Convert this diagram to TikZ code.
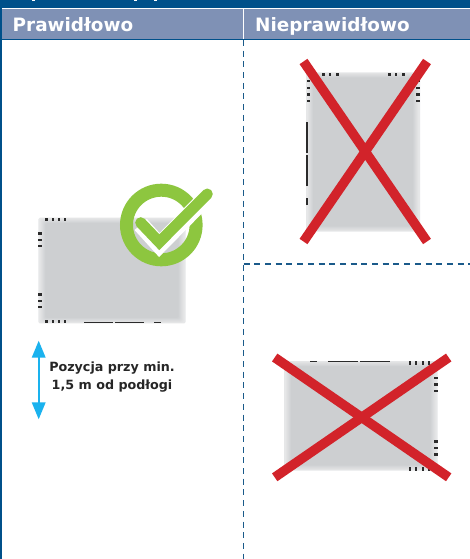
\documentclass[tikz,border=0pt]{standalone}
\usepackage{fontspec}
\setmainfont{DejaVu Sans}
\usetikzlibrary{arrows.meta}
\definecolor{navy}{HTML}{00508A}
\definecolor{headbar}{HTML}{7F91B5}
\definecolor{dashc}{HTML}{1A5A8A}
\definecolor{xred}{HTML}{D2232A}
\definecolor{okgreen}{HTML}{8DC63F}
\definecolor{skyb}{HTML}{1AB2EE}
\definecolor{devedge}{HTML}{E6E7E8}
\definecolor{devcore}{HTML}{CDCFD1}
\definecolor{tickc}{HTML}{2B2B2B}
\newcommand{\devbox}[4]{%
  \foreach \i in {0,...,6}{%
    \pgfmathsetmacro{\mixv}{\i*100/6}
    \pgfmathsetmacro{\ins}{\i*1.0}
    \fill[devcore!\mixv!devedge,rounded corners=1.5pt] ({#1+\ins+(\i>0?1:0)},{#2+\ins*0.9}) rectangle ({#3-\ins-(\i>0?1:0)},{#4-\ins*0.9});
  }%
}
\newcommand{\tickh}[2]{\fill[tickc] ({#1-1.2},{#2-1.7}) rectangle ({#1+1.2},{#2+1.7});}
\newcommand{\tickv}[2]{\fill[tickc] ({#1-1.9},{#2-1.2}) rectangle ({#1+1.9},{#2+1.2});}
\tikzset{
  crossbar/.style={draw=xred,line width=9.5pt},
  sepdash/.style={draw=dashc,line width=1.1pt,dash pattern=on 6pt off 4.7pt},
  headtext/.style={anchor=base west,text=white,font=\fontsize{18.4}{20}\selectfont\bfseries,inner sep=0pt},
  notetext/.style={text=black!85,align=center,font=\fontsize{12.7}{18.3}\selectfont\bfseries,inner sep=0pt}
}
\begin{document}
\begin{tikzpicture}[x=1pt,y=-1pt]
\useasboundingbox (0,0) rectangle (470,559);
\fill[white] (0,0) rectangle (470,559);
% header
\fill[navy] (0,0) rectangle (470,8);
\foreach \x in {33,135,155}{\fill[white] (\x-1.5,0) rectangle (\x+1.5,1.2);}
\fill[headbar] (2,9) rectangle (470,39);
\fill[navy] (0,39) rectangle (470,40.3);
\fill[white] (243,9) rectangle (244.2,39);
\fill[navy] (0,0) rectangle (1.6,559);
\node[headtext] (good) at (12.5,32) {Prawidłowo};
\node[headtext] (bad) at (255,32) {Nieprawidłowo};
% separators
\coordinate (vt) at (243.6,40);
\coordinate (vb) at (243.6,559);
\coordinate (hl) at (243.6,264);
\coordinate (hr) at (470,264);
\draw[sepdash] (vt) -- (vb);
\draw[sepdash] (hl) -- (hr);
% correct device
\devbox{38.3}{217.7}{185.7}{323.3}
\foreach \x in {46.5,52.7,58.7,65}{\tickh{\x}{219.5}\tickh{\x}{321.2}}
\foreach \y in {233.5,239.7,246,294.5,300.7,307}{\tickv{40.3}{\y}}
\foreach \a/\b in {84/113,115/144,154/161}{\fill[tickc] (\a,321.8) rectangle (\b,322.8);}
% check mark
\draw[okgreen,line width=13pt] (161.3,225) circle (34.8);
\draw[white,line width=16.5pt,line join=miter] (140.7,224.5) -- (159.3,245) -- (208.5,195);
\draw[okgreen,line width=11pt,line cap=round,line join=miter] (140.7,222.7) -- (159.3,242.2) -- (207.3,194);
% wrong vertical device
\devbox{306}{72.3}{420}{231.7}
\foreach \x in {323.3,330,337.3,389.3,396,403.3}{\tickh{\x}{74.3}}
\foreach \y in {81.3,88,94.7,101.3}{\tickv{308.5}{\y}\tickv{418.3}{\y}}
\foreach \a/\b in {122/152.7,155/185.7,198/205}{\fill[tickc] (306,\a) rectangle (307.8,\b);}
\draw[crossbar] (303.5,61.5) -- (427,241.5);
\draw[crossbar] (427,61.5) -- (303.5,241.5);
% wrong horizontal device
\devbox{284}{361}{437.7}{470.7}
\foreach \a/\b in {310/317.3,328/358.3,360/390}{\fill[tickc] (\a,360.8) rectangle (\b,361.8);}
\foreach \x in {410,416,422.7,429}{\tickh{\x}{363}\tickh{\x}{469}}
\foreach \y in {377.7,384.3,390.7,441.3,447.7,454.3}{\tickv{436}{\y}}
\draw[crossbar] (274.7,357.5) -- (448.7,477.3);
\draw[crossbar] (448.7,357.5) -- (274.7,477.3);
% height arrow
\coordinate (au) at (38.7,340.7);
\coordinate (ad) at (38.7,419.3);
\draw[skyb,line width=2pt,{Triangle[width=13.5pt,length=17pt]}-{Triangle[width=13.5pt,length=17pt]}] (au) -- (ad);
\node[notetext] (note) at (112,377) {Pozycja przy min.\\1,5 m od podłogi};
\end{tikzpicture}
\end{document}
